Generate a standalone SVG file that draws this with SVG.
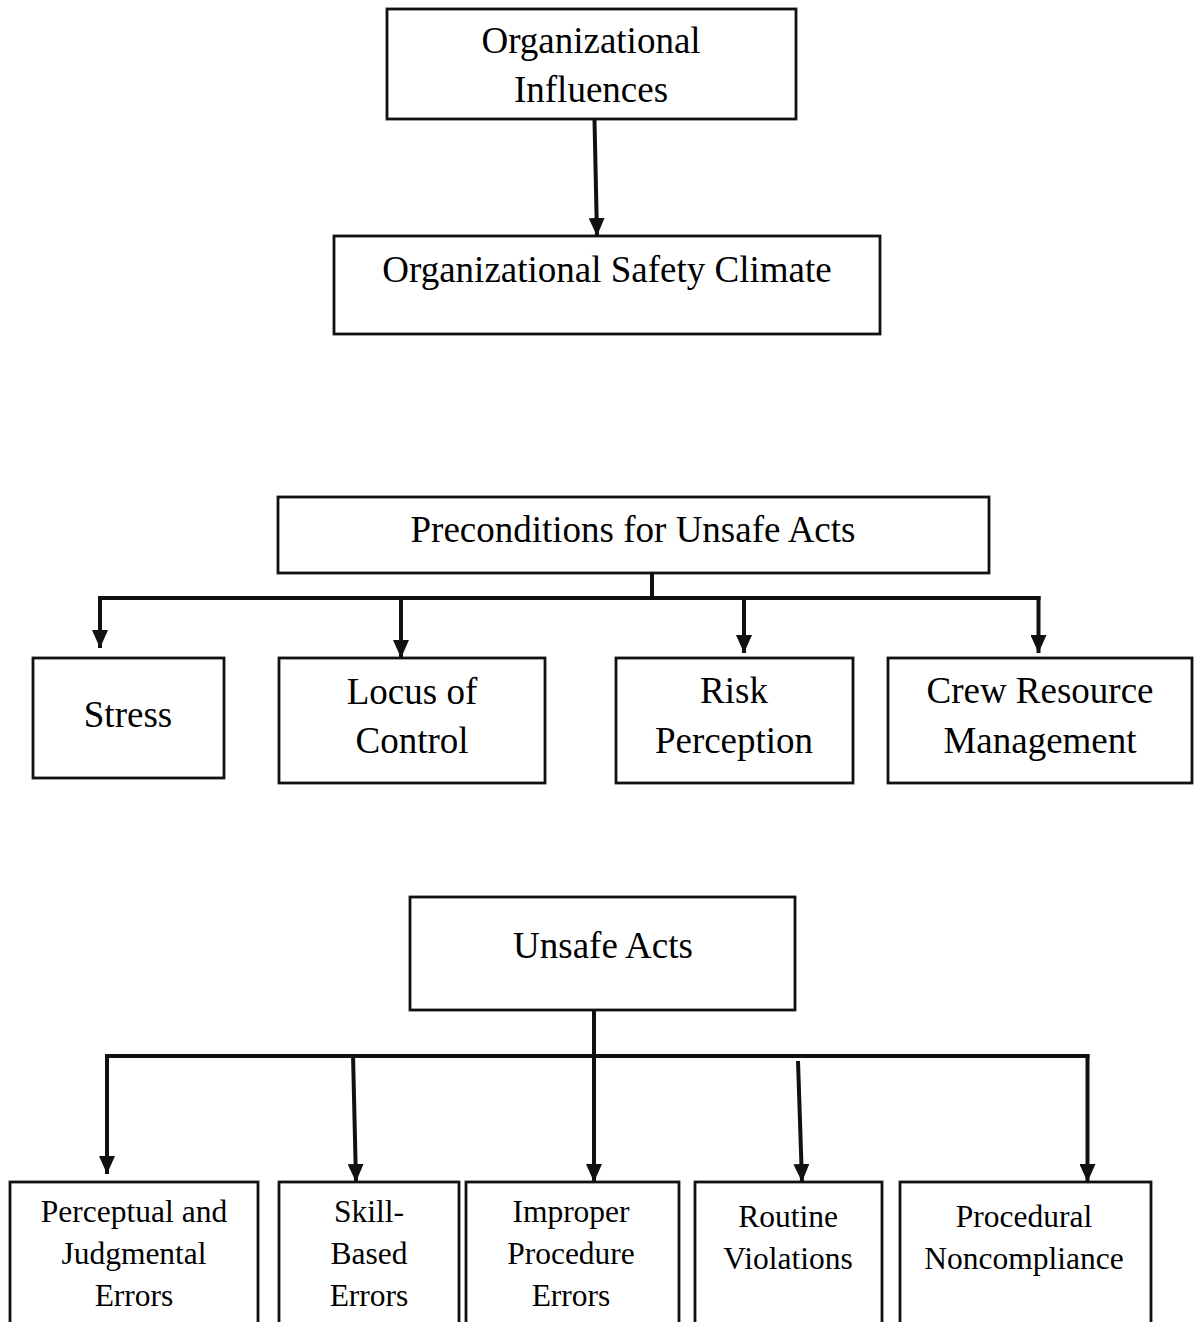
<svg xmlns="http://www.w3.org/2000/svg" width="1196" height="1322" viewBox="0 0 1196 1322">
<defs>
<marker id="ah" viewBox="0 0 18 16" refX="18" refY="8" markerWidth="18" markerHeight="16" markerUnits="userSpaceOnUse" orient="auto">
<path d="M0,0 L18,8 L0,16 Z" fill="#111"/>
</marker>
<style>
rect{fill:#fff;stroke:#111;stroke-width:2.8}
text{font-family:"Liberation Serif","Times New Roman",serif;fill:#000;text-anchor:middle}
.l{font-size:37px}
.s{font-size:31.5px}
.c line,.c path{stroke:#111;stroke-width:4;fill:none}
</style>
</defs>
<rect x="0" y="0" width="1196" height="1322" style="fill:#fff;stroke:none"/>
<g id="connectors" class="c">
<line x1="594.5" y1="120" x2="597" y2="236" marker-end="url(#ah)"/>
<path d="M652,573 V597"/>
<path d="M98,598 H1040.5"/>
<line x1="100" y1="596" x2="100" y2="648" marker-end="url(#ah)"/>
<line x1="401" y1="596" x2="401" y2="658" marker-end="url(#ah)"/>
<line x1="744" y1="596" x2="744" y2="653" marker-end="url(#ah)"/>
<line x1="1038.5" y1="596" x2="1038.5" y2="653" marker-end="url(#ah)"/>
<line x1="594" y1="1010" x2="594" y2="1182" marker-end="url(#ah)"/>
<path d="M105,1056 H1089.5"/>
<line x1="107" y1="1054" x2="107" y2="1174" marker-end="url(#ah)"/>
<line x1="353" y1="1054" x2="356" y2="1182" marker-end="url(#ah)"/>
<line x1="798" y1="1061" x2="802" y2="1182" marker-end="url(#ah)"/>
<line x1="1087.5" y1="1054" x2="1087.5" y2="1182" marker-end="url(#ah)"/>
</g>
<g id="n-org-influences">
<rect x="387" y="9" width="409" height="110"/>
<text class="l" x="591" y="53">Organizational</text>
<text class="l" x="591" y="102">Influences</text>
</g>
<g id="n-safety-climate">
<rect x="334" y="236" width="546" height="98"/>
<text class="l" x="607" y="282">Organizational Safety Climate</text>
</g>
<g id="n-preconditions">
<rect x="278" y="497" width="711" height="76"/>
<text class="l" x="633" y="542">Preconditions for Unsafe Acts</text>
</g>
<g id="n-stress">
<rect x="33" y="658" width="191" height="120"/>
<text class="l" x="128" y="727">Stress</text>
</g>
<g id="n-locus">
<rect x="279" y="658" width="266" height="125"/>
<text class="l" x="412" y="704">Locus of</text>
<text class="l" x="412" y="753">Control</text>
</g>
<g id="n-risk">
<rect x="616" y="658" width="237" height="125"/>
<text class="l" x="734" y="703">Risk</text>
<text class="l" x="734" y="753">Perception</text>
</g>
<g id="n-crew">
<rect x="888" y="658" width="304" height="125"/>
<text class="l" x="1040" y="703">Crew Resource</text>
<text class="l" x="1040" y="753">Management</text>
</g>
<g id="n-unsafe-acts">
<rect x="410" y="897" width="385" height="113"/>
<text class="l" x="603" y="958">Unsafe Acts</text>
</g>
<g id="n-perceptual">
<rect x="10" y="1182" width="248" height="160"/>
<text class="s" x="134" y="1222">Perceptual and</text>
<text class="s" x="134" y="1264">Judgmental</text>
<text class="s" x="134" y="1306">Errors</text>
</g>
<g id="n-skill">
<rect x="279" y="1182" width="180" height="160"/>
<text class="s" x="369" y="1222">Skill-</text>
<text class="s" x="369" y="1264">Based</text>
<text class="s" x="369" y="1306">Errors</text>
</g>
<g id="n-improper">
<rect x="466" y="1182" width="213" height="160"/>
<text class="s" x="571" y="1222">Improper</text>
<text class="s" x="571" y="1264">Procedure</text>
<text class="s" x="571" y="1306">Errors</text>
</g>
<g id="n-routine">
<rect x="695" y="1182" width="187" height="160"/>
<text class="s" x="788" y="1227">Routine</text>
<text class="s" x="788" y="1269">Violations</text>
</g>
<g id="n-procedural">
<rect x="900" y="1182" width="251" height="160"/>
<text class="s" x="1024" y="1227">Procedural</text>
<text class="s" x="1024" y="1269">Noncompliance</text>
</g>
</svg>
